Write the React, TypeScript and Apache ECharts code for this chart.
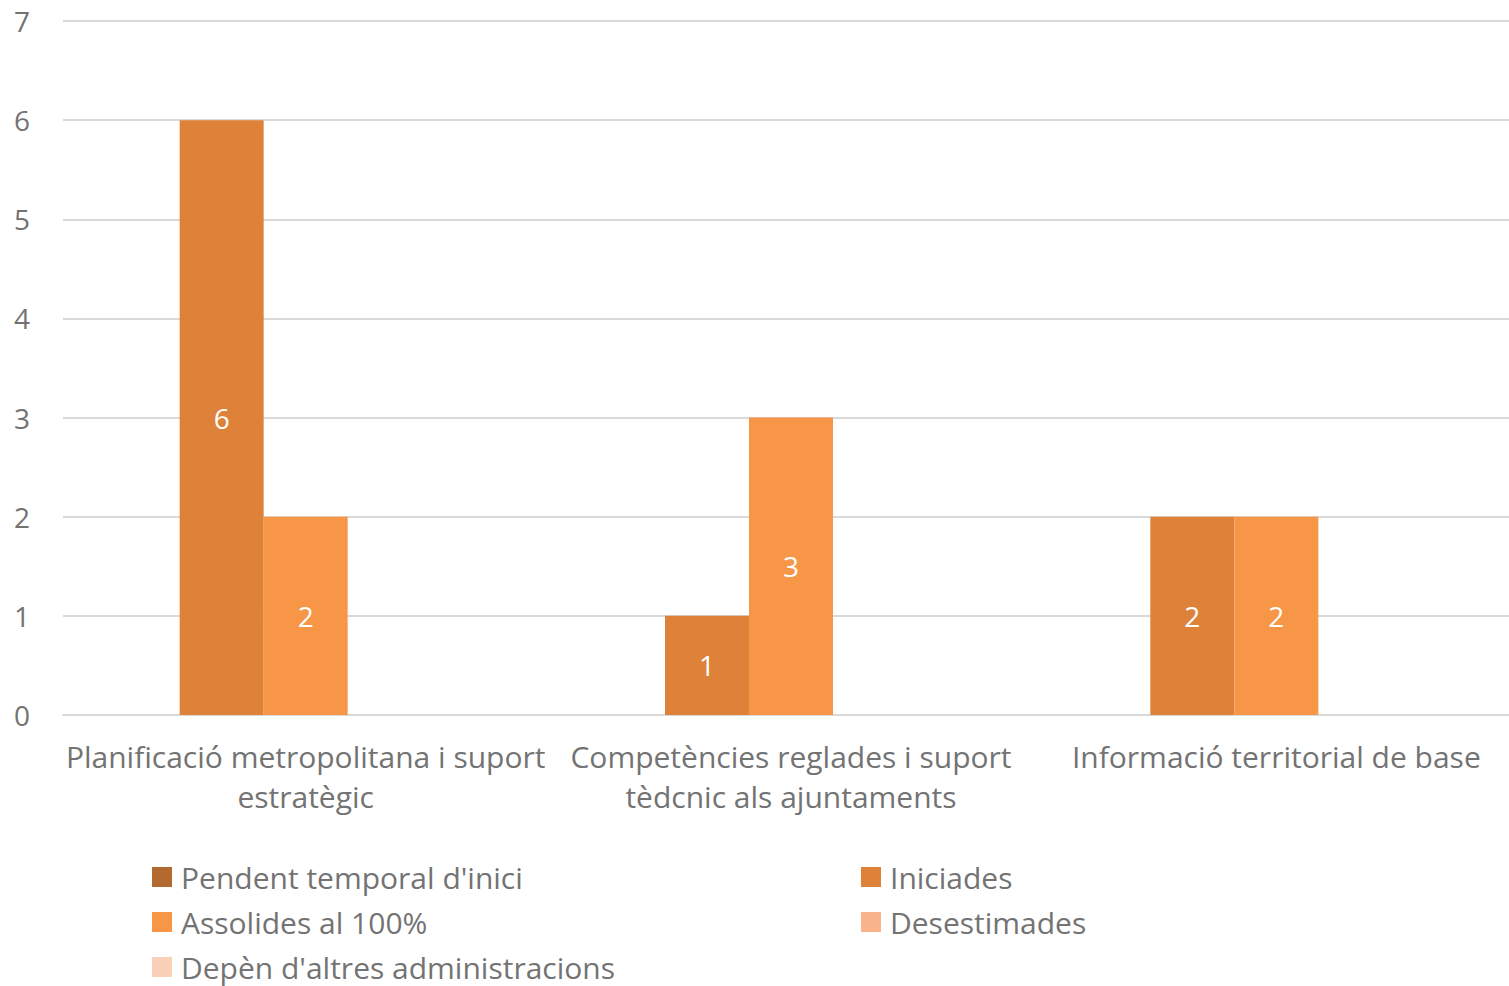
import React, { useEffect, useRef } from "react";
import * as echarts from "echarts";

const categories = [
  "Planificació metropolitana i suport\nestratègic",
  "Competències reglades i suport\ntèdcnic als ajuntaments",
  "Informació territorial de base",
];
const seriesNames = [
  "Pendent temporal d'inici",
  "Iniciades",
  "Assolides al 100%",
  "Desestimades",
  "Depèn d'altres administracions",
];
const pendent = [null, null, null];
const iniciades = [6, 1, 2];
const assolides = [2, 3, 2];
const desestimades = [null, null, null];
const depen = [null, null, null];
const seriesValues = [pendent, iniciades, assolides, desestimades, depen];
const colors = ["#B46A2F", "#DE823A", "#F79646", "#F9B48C", "#FBD0B9"];
const yTicks = [0, 1, 2, 3, 4, 5, 6, 7];

const FONT = "Open Sans";
const TEXT = "#737373";

export default function App() {
  const ref = useRef<HTMLDivElement>(null);
  useEffect(() => {
    if (!ref.current) return;
    const chart = echarts.init(ref.current, null, { renderer: "svg" });
    const legendText = {
      fontSize: 30,
      color: TEXT,
      fontFamily: FONT,
      lineHeight: 30,
      padding: [0, 0, 0, 4],
    };
    chart.setOption({
      animation: false,
      textStyle: { fontFamily: FONT },
      grid: {
        left: 63,
        top: 21,
        width: 1456,
        bottom: 271,
        containLabel: false,
        outerBoundsMode: "none",
      },
      legend: [
        {
          left: 147,
          top: 857,
          height: 200,
          orient: "vertical",
          itemWidth: 20,
          itemHeight: 20,
          itemGap: 15,
          icon: "rect",
          textStyle: legendText,
          data: [seriesNames[0], seriesNames[2], seriesNames[4]],
        },
        {
          left: 856,
          top: 857,
          height: 200,
          orient: "vertical",
          itemWidth: 20,
          itemHeight: 20,
          itemGap: 15,
          icon: "rect",
          textStyle: legendText,
          data: [seriesNames[1], seriesNames[3]],
        },
      ],
      xAxis: {
        type: "category",
        data: categories,
        axisLine: { show: true, lineStyle: { color: "#D9D9D9", width: 2 } },
        axisTick: { show: false },
        axisLabel: {
          color: TEXT,
          fontSize: 30,
          fontFamily: FONT,
          lineHeight: 40,
          margin: 21,
          interval: 0,
        },
      },
      yAxis: {
        type: "value",
        min: yTicks[0],
        max: yTicks[yTicks.length - 1],
        interval: 1,
        axisLine: { show: false },
        axisTick: { show: false },
        splitLine: { lineStyle: { color: "#D9D9D9", width: 2 } },
        axisLabel: { color: TEXT, fontSize: 28, fontFamily: FONT, margin: 33 },
      },
      series: seriesNames.map((name, i) => ({
        name,
        type: "bar",
        data: seriesValues[i],
        barWidth: 84,
        barGap: "0%",
        itemStyle: { color: colors[i] },
        label: {
          show: true,
          position: "inside",
          color: "#FFFFFF",
          fontSize: 28,
          fontFamily: FONT,
        },
      })),
    });
    return () => chart.dispose();
  }, []);
  return (
    <div
      ref={ref}
      style={{ position: "fixed", left: 0, top: 0, width: 1509, height: 986, background: "#fff" }}
    />
  );
}
